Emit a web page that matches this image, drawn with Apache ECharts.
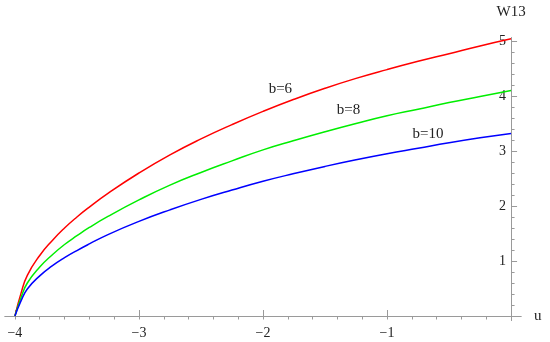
<!DOCTYPE html>
<html>
<head>
<meta charset="utf-8">
<script src="https://cdn.jsdelivr.net/npm/echarts@6/dist/echarts.min.js"></script>
<style>
  html, body { margin: 0; padding: 0; background: #fff; }
  #chart { width: 550px; height: 342px; }
</style>
</head>
<body>
<div id="chart"></div>
<script>
// valores
const u = [-4, -3.95, -3.9, -3.8, -3.7, -3.6, -3.5, -3.4, -3.25, -3.0, -2.75, -2.5,
  -2.25, -2.0, -1.75, -1.5, -1.25, -1.0, -0.75, -0.5, -0.25, 0]
const w13b6 = [0, 0.42, 0.74, 1.10, 1.37, 1.60, 1.80, 1.98, 2.23, 2.60, 2.93, 3.22,
  3.48, 3.72, 3.94, 4.14, 4.32, 4.48, 4.63, 4.77, 4.91, 5.04]
const w13b8 = [0, 0.34, 0.60, 0.89, 1.11, 1.30, 1.46, 1.61, 1.81, 2.11, 2.38, 2.61,
  2.82, 3.02, 3.19, 3.35, 3.50, 3.64, 3.76, 3.88, 3.99, 4.10]
const w13b10 = [0, 0.28, 0.49, 0.73, 0.91, 1.06, 1.19, 1.31, 1.48, 1.72, 1.93, 2.12,
  2.29, 2.45, 2.59, 2.72, 2.84, 2.95, 3.05, 3.15, 3.24, 3.32]

const etiquetas = ['b=6', 'b=8', 'b=10']
const posEtiquetas = [[-1.86, 4.13], [-1.31, 3.75], [-0.67, 3.31]]
const colores = ['#ff0000', '#00ee00', '#0000ff']

const xMajor = [-4, -3, -2, -1]
const xMinor = []
for (let i = 0; i <= 20; i++) xMinor.push(+(-4 + i * 0.2).toFixed(1))
const yMajor = [1, 2, 3, 4, 5]
const yMinor = []
for (let i = 1; i <= 25; i++) yMinor.push(+(i * 0.2).toFixed(1))

const fuente = 'Liberation Serif'
const gris = '#9a9a9a'

const xMin = -4.08
const xMax = 0.08
const grid = { left: 5, right: 29, top: 37.7, bottom: 21.6 }
// el eje vertical cae en u = 0, un poco antes del borde derecho
const anchoGrid = 550 - grid.left - grid.right
const desplazY = -anchoGrid * (xMax - 0) / (xMax - xMin)

function serie(valores, i) {
  return {
    type: 'line',
    xAxisIndex: 0,
    yAxisIndex: 0,
    data: u.map((x, k) => [x, valores[k]]),
    showSymbol: false,
    smooth: 0.5,
    lineStyle: { color: colores[i], width: 1.5 },
    itemStyle: { color: colores[i] },
    markPoint: {
      symbol: 'circle',
      symbolSize: 0,
      data: [{ coord: posEtiquetas[i] }],
      label: {
        show: true,
        position: 'inside',
        formatter: etiquetas[i],
        color: '#222',
        fontFamily: fuente,
        fontSize: 15
      }
    }
  }
}

const ejeX = (extra) => Object.assign({
  type: 'value',
  min: xMin,
  max: xMax,
  splitLine: { show: false },
  axisLine: { onZero: true, onZeroAxisIndex: 0, lineStyle: { color: gris, width: 1 } }
}, extra)

const ejeY = (extra) => Object.assign({
  type: 'value',
  min: -0.08,
  max: 5.06,
  position: 'right',
  offset: desplazY,
  splitLine: { show: false },
  axisLine: { onZero: false, lineStyle: { color: gris, width: 1 } }
}, extra)

const chart = echarts.init(document.getElementById('chart'))
chart.setOption({
  animation: false,
  grid: grid,
  xAxis: [
    ejeX({
      name: 'u',
      nameLocation: 'end',
      nameGap: 13,
      nameTextStyle: { color: '#222', fontFamily: fuente, fontSize: 15, verticalAlign: 'middle', padding: [5, 0, 0, 0] },
      axisTick: { show: true, inside: true, length: 6, customValues: xMajor, lineStyle: { color: gris } },
      axisLabel: {
        customValues: xMajor,
        margin: 6,
        color: '#222',
        fontFamily: fuente,
        fontSize: 14,
        formatter: v => (v < 0 ? '\u2212' + Math.abs(v) : String(v))
      }
    }),
    ejeX({
      axisTick: { show: true, inside: true, length: 3.5, customValues: xMinor, lineStyle: { color: gris } },
      axisLabel: { show: false }
    })
  ],
  yAxis: [
    ejeY({
      name: 'W13',
      nameLocation: 'end',
      nameGap: 18,
      nameTextStyle: { color: '#222', fontFamily: fuente, fontSize: 15, align: 'center' },
      axisTick: { show: true, inside: false, length: 6, customValues: yMajor, lineStyle: { color: gris } },
      axisLabel: {
        customValues: yMajor,
        inside: true,
        margin: 5,
        color: '#222',
        fontFamily: fuente,
        fontSize: 14
      }
    }),
    ejeY({
      axisTick: { show: true, inside: false, length: 3.5, customValues: yMinor, lineStyle: { color: gris } },
      axisLabel: { show: false }
    })
  ],
  series: [serie(w13b6, 0), serie(w13b8, 1), serie(w13b10, 2)]
})
</script>
</body>
</html>
